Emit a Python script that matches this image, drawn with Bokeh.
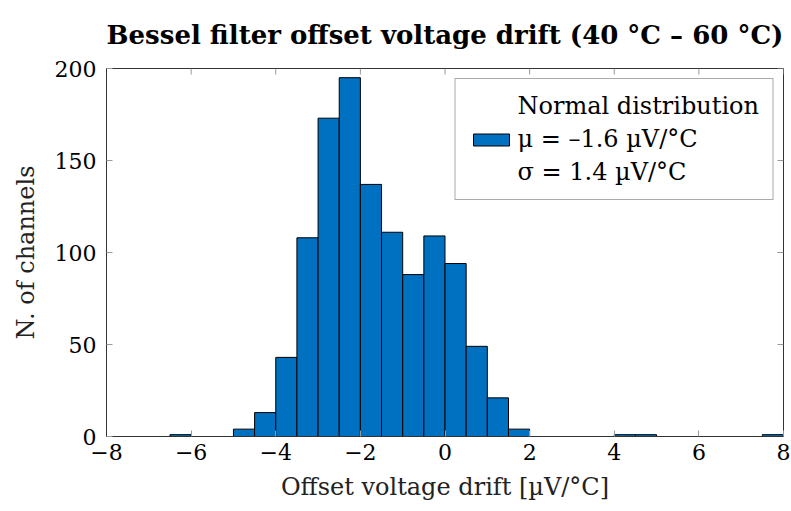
import math
from bokeh.plotting import figure
from bokeh.models import Range1d, FixedTicker, Legend, LegendItem, Title
from bokeh.embed import file_html
from bokeh.resources import INLINE

# ---- data ----
bin_left = [-8.0 + 0.5 * i for i in range(32)]
bin_width = 0.5
counts = [0, 0, 0, 1, 0, 0, 4, 13, 43, 108, 173, 195, 137, 111, 88, 109,
          94, 49, 21, 4, 0, 0, 0, 0, 1, 1, 0, 0, 0, 0, 0, 1]
x_ticks = [-8, -6, -4, -2, 0, 2, 4, 6, 8]
y_ticks = [0, 50, 100, 150, 200]
title_text = "Bessel filter offset voltage drift (40 °C – 60 °C)"
x_label = "Offset voltage drift [µV/°C]"
y_label = "N. of channels"
legend_lines = ["Normal distribution", "μ = –1.6 µV/°C", "σ = 1.4 µV/°C"]

FONT = "DejaVu Serif"
BAR = "#0070C0"
X0, X1, Y0, Y1 = -8, 8, 0, 200

p = figure(frame_width=677, frame_height=368, output_backend="svg", toolbar_location=None,
           x_range=Range1d(X0, X1), y_range=Range1d(Y0, Y1),
           min_border_left=106, min_border_right=8, min_border_top=68, min_border_bottom=4)
p.title = Title(text=title_text, text_font=FONT, text_font_size="26px",
                text_font_style="bold", align="center", text_color="black",
                vertical_align="top", standoff=34)
p.xgrid.visible = False
p.ygrid.visible = False
p.outline_line_color = "#333333"
p.outline_line_width = 1
p.background_fill_color = "white"

right = [l + bin_width for l in bin_left]
bars = p.quad(left=bin_left, right=right, bottom=0, top=counts,
              fill_color=BAR, line_color="black", line_width=1)

dummy1 = p.quad(left=[], right=[], bottom=[], top=[], fill_alpha=0, line_alpha=0)
dummy2 = p.quad(left=[], right=[], bottom=[], top=[], fill_alpha=0, line_alpha=0)

# mirrored inward ticks on top and right edges
p.ray(x=x_ticks, y=[Y1] * len(x_ticks), length=6, length_units="screen",
      angle=-math.pi / 2, line_color="#999999", line_width=1)
p.ray(x=[X1] * len(y_ticks), y=y_ticks, length=6, length_units="screen",
      angle=math.pi, line_color="#999999", line_width=1)

minus = lambda v: ("\u2212" + str(abs(v))) if v < 0 else str(v)

for ax in (p.xaxis[0], p.yaxis[0]):
    ax.major_tick_in = 6
    ax.major_tick_out = 0
    ax.minor_tick_in = 0
    ax.minor_tick_out = 0
    ax.major_tick_line_color = "#999999"
    ax.axis_line_color = "#333333"
    ax.major_label_text_font = FONT
    ax.major_label_text_font_size = "22px"
    ax.major_label_text_color = "black"
    ax.axis_label_text_font = FONT
    ax.axis_label_text_font_size = "24px"
    ax.axis_label_text_font_style = "normal"
    ax.axis_label_text_color = "#222222"

p.xaxis[0].ticker = FixedTicker(ticks=x_ticks)
p.yaxis[0].ticker = FixedTicker(ticks=y_ticks)
p.xaxis[0].major_label_overrides = {t: minus(t) for t in x_ticks}
p.xaxis[0].axis_label = x_label
p.yaxis[0].axis_label = y_label
p.xaxis[0].major_label_standoff = 7
p.yaxis[0].major_label_standoff = 10
p.xaxis[0].axis_label_standoff = 10
p.yaxis[0].axis_label_standoff = 12

legend = Legend(items=[LegendItem(label=legend_lines[0], renderers=[dummy1]),
                       LegendItem(label=legend_lines[1], renderers=[bars]),
                       LegendItem(label=legend_lines[2], renderers=[dummy2])],
                location="top_right", label_text_font=FONT, label_text_font_size="24px",
                label_text_color="black", glyph_width=45, glyph_height=15,
                label_standoff=4, spacing=5, padding=13, margin=10,
                border_line_color="#555555", border_line_width=1,
                background_fill_alpha=1)
p.add_layout(legend)

open("out.html", "w").write(file_html(p, INLINE))
